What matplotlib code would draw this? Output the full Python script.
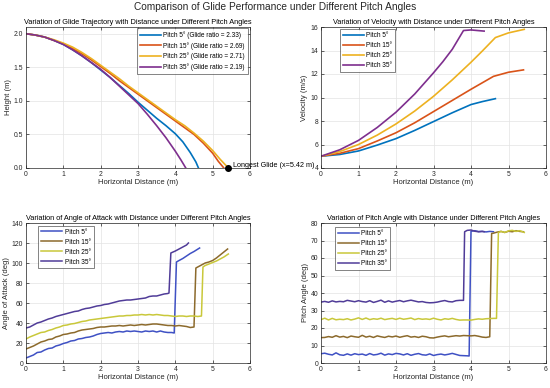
import numpy as np
import matplotlib
matplotlib.use("Agg")
import matplotlib.pyplot as plt

plt.rcParams['font.family'] = ['Liberation Sans', 'DejaVu Sans']

pitches = [5, 15, 25, 35]
glide_ratios = [2.33, 2.69, 2.71, 2.19]

# --- trajectory (height vs distance) ---
traj_x5 = [0.0, 0.25, 0.5, 0.75, 1.0, 1.25, 1.5, 1.75, 2.0, 2.25, 2.5, 2.75, 3.0, 3.25, 3.5, 3.75, 4.0, 4.2, 4.4, 4.55, 4.62]
traj_y5 = [2.0, 1.98, 1.95, 1.9, 1.84, 1.76, 1.67, 1.57, 1.46, 1.35, 1.23, 1.11, 0.98, 0.86, 0.74, 0.63, 0.51, 0.39, 0.23, 0.09, 0.0]
traj_x15 = [0.0, 0.25, 0.5, 0.75, 1.0, 1.25, 1.5, 1.75, 2.0, 2.25, 2.5, 2.75, 3.0, 3.25, 3.5, 3.75, 4.0, 4.25, 4.5, 4.75, 5.0, 5.15, 5.3]
traj_y15 = [2.0, 1.98, 1.95, 1.9, 1.85, 1.78, 1.7, 1.61, 1.51, 1.41, 1.3, 1.2, 1.1, 1.0, 0.9, 0.8, 0.7, 0.6, 0.5, 0.37, 0.22, 0.1, 0.0]
traj_x25 = [0.0, 0.25, 0.5, 0.75, 1.0, 1.25, 1.5, 1.75, 2.0, 2.25, 2.5, 2.75, 3.0, 3.25, 3.5, 3.75, 4.0, 4.25, 4.5, 4.75, 5.0, 5.2, 5.42]
traj_y25 = [2.0, 1.98, 1.95, 1.91, 1.86, 1.8, 1.72, 1.63, 1.53, 1.43, 1.33, 1.22, 1.12, 1.02, 0.92, 0.82, 0.72, 0.63, 0.52, 0.4, 0.26, 0.13, 0.0]
traj_x35 = [0.0, 0.25, 0.5, 0.75, 1.0, 1.25, 1.5, 1.75, 2.0, 2.25, 2.5, 2.75, 3.0, 3.25, 3.5, 3.75, 4.0, 4.15, 4.28]
traj_y35 = [2.0, 1.98, 1.95, 1.9, 1.84, 1.76, 1.67, 1.57, 1.47, 1.35, 1.22, 1.09, 0.96, 0.8, 0.63, 0.45, 0.25, 0.12, 0.0]

# --- velocity vs distance ---
vel_x5 = [0.0, 0.5, 1.0, 1.5, 2.0, 2.5, 3.0, 3.5, 4.0, 4.3, 4.65]
vel_y5 = [5.0, 5.15, 5.45, 5.95, 6.5, 7.2, 7.95, 8.7, 9.4, 9.65, 9.9]
vel_x15 = [0.0, 0.5, 1.0, 1.5, 2.0, 2.5, 3.0, 3.5, 4.0, 4.3, 4.6, 5.0, 5.4]
vel_y15 = [5.0, 5.25, 5.65, 6.3, 7.0, 7.85, 8.8, 9.75, 10.7, 11.25, 11.8, 12.15, 12.35]
vel_x25 = [0.0, 0.5, 1.0, 1.5, 2.0, 2.5, 3.0, 3.5, 4.0, 4.3, 4.65, 5.0, 5.42]
vel_y25 = [5.0, 5.4, 6.0, 6.8, 7.75, 8.85, 10.1, 11.5, 13.0, 13.95, 15.1, 15.5, 15.8]
vel_x35 = [0.0, 0.5, 1.0, 1.5, 2.0, 2.5, 3.0, 3.25, 3.5, 3.8, 4.0, 4.35]
vel_y35 = [5.0, 5.55, 6.35, 7.45, 8.75, 10.3, 12.1, 13.05, 14.1, 15.7, 15.75, 15.65]

# common sample positions before the jumps
x_base = [0.0, 0.1, 0.2, 0.3, 0.4, 0.5, 0.6, 0.7, 0.8, 0.9, 1.0, 1.1, 1.2, 1.3, 1.4, 1.5, 1.6, 1.7, 1.8, 1.9,
          2.0, 2.1, 2.2, 2.3, 2.4, 2.5, 2.6, 2.7, 2.8, 2.9, 3.0, 3.1, 3.2, 3.3, 3.4, 3.5, 3.6, 3.7, 3.8]

# --- angle of attack ---
aoa_y5 = [5, 6.5, 8, 10.5, 11, 13, 14.5, 15, 17, 18, 19.5, 20.5, 22, 22.5, 24, 24.5, 25.5, 26, 27, 28.5,
          29.5, 30, 30.5, 30, 31, 31.5, 31, 32, 31.5, 32, 31.5, 31, 32, 31.5, 32, 31, 32, 31, 30.5]
aoa_tx5 = [3.9, 3.97, 4.03, 4.1, 4.2, 4.3, 4.4, 4.5, 4.65]
aoa_ty5 = [30.5, 30.0, 101.0, 102.5, 104.5, 107.0, 109.5, 111.5, 115.0]
aoa_y15 = [14, 15.5, 17, 19, 21, 22, 23.5, 24, 26, 27, 28.5, 29, 30, 30.5, 32, 33, 33.5, 34, 34.5, 35.5,
           36, 36, 36.5, 37, 37, 37.5, 37, 37.5, 38, 37.5, 38, 38.5, 38, 38.5, 39, 39, 38.5, 38, 37.5]
aoa_tx15 = [3.9, 4.0, 4.1, 4.2, 4.3, 4.4, 4.5, 4.55, 4.6, 4.7, 4.8, 4.9, 5.0, 5.1, 5.2, 5.3, 5.4]
aoa_ty15 = [37.5, 37.0, 37.5, 37.0, 36.5, 35.5, 36.0, 95.0, 96.0, 98.0, 100.0, 101.0, 102.5, 105.0, 108.0, 111.0, 114.0]
aoa_y25 = [24, 26, 27.5, 29, 30.5, 31, 32.5, 33.5, 35, 36, 37.5, 38, 39, 39.5, 40.5, 41.5, 42, 43, 43.5, 44,
           44.5, 45, 45.5, 46, 46.5, 47, 47, 47.5, 47.5, 48, 48, 48.5, 48, 48.5, 48, 48.5, 48, 47.5, 47.5]
aoa_tx25 = [3.9, 4.0, 4.1, 4.2, 4.3, 4.4, 4.5, 4.6, 4.7, 4.74, 4.8, 4.9, 5.0, 5.1, 5.2, 5.3, 5.42]
aoa_ty25 = [47, 46.5, 47, 47, 46.5, 47, 47, 46.5, 47, 96, 97.5, 99, 100.5, 102, 104, 106, 109]
aoa_y35 = [35, 36, 38, 40, 41, 42.5, 44, 45, 46.5, 47.5, 48.5, 49.5, 50.5, 51.5, 52, 53.5, 54.5, 55, 56, 57,
           57.5, 58.5, 59, 60, 61, 62, 62.5, 63, 63, 63.5, 64, 64.5, 65, 66.5, 67, 67, 68, 69, 69.5]
aoa_tx35 = [3.83, 3.88, 4.0, 4.1, 4.2, 4.3, 4.35]
aoa_ty35 = [70, 110, 112, 114, 116, 118, 120]

# --- pitch angle ---
pa_y5 = [5.3, 5.6, 5.0, 4.6, 5.8, 4.7, 4.4, 5.2, 4.5, 5.3, 4.8, 5.1, 4.4, 5.4, 4.6, 4.9, 5.6, 4.5, 5.2, 4.8,
         5.5, 5.2, 4.6, 5.3, 4.4, 5.0, 5.4, 4.7, 4.5, 5.2, 4.3, 4.8, 5.1, 4.6, 5.0, 5.5, 4.9, 4.3, 4.2]
pa_tx5 = [3.9, 3.95, 4.0, 4.1, 4.2, 4.3, 4.4, 4.5, 4.6]
pa_ty5 = [4.1, 4.0, 75.3, 75.6, 75.1, 75.2, 74.9, 75.2, 75.0]
pa_y15 = [14.5, 14.6, 15.1, 14.7, 15.6, 14.8, 15.2, 14.5, 15.4, 15.0, 14.7, 15.8, 14.8, 15.3, 14.6, 15.5, 15.0, 14.6, 15.3, 14.9,
          15.4, 14.7, 15.2, 15.6, 14.8, 15.1, 14.6, 15.3, 15.0, 14.4, 14.3, 14.8, 15.2, 15.5, 15.0, 15.3, 15.6, 15.4, 15.7]
pa_tx15 = [3.9, 4.0, 4.1, 4.2, 4.3, 4.4, 4.5, 4.55, 4.6, 4.7, 4.8, 4.9, 5.0, 5.1, 5.2, 5.3, 5.4]
pa_ty15 = [15.6, 15.5, 15.7, 15.3, 14.8, 14.6, 15.0, 74.0, 74.2, 74.8, 75.2, 74.6, 75.3, 75.0, 75.6, 75.2, 75.0]
pa_y25 = [24.8, 25.6, 24.6, 25.5, 24.7, 25.0, 24.8, 25.3, 24.6, 25.1, 25.8, 24.9, 25.7, 24.8, 25.3, 25.0, 25.6, 24.8, 25.2, 25.5,
          24.9, 25.6, 25.0, 25.3, 25.7, 24.8, 25.4, 25.0, 25.2, 24.9, 25.6, 25.0, 24.6, 25.3, 25.0, 25.5, 24.9, 24.5, 24.6]
pa_tx25 = [3.9, 4.0, 4.1, 4.2, 4.3, 4.4, 4.5, 4.6, 4.68, 4.73, 4.8, 4.9, 5.0, 5.1, 5.2, 5.3, 5.42]
pa_ty25 = [24.6, 24.5, 24.9, 25.2, 25.0, 25.3, 25.4, 25.5, 25.5, 74.5, 75.2, 74.6, 75.5, 75.8, 75.2, 75.6, 74.6]
pa_y35 = [34.8, 35.2, 34.7, 35.5, 34.9, 35.2, 35.0, 35.8, 35.4, 35.0, 35.6, 35.1, 34.8, 35.6, 34.6, 35.2, 35.9, 34.7, 35.5, 34.8,
          35.3, 35.7, 35.0, 35.5, 35.9, 35.4, 34.9, 35.1, 34.6, 34.4, 34.5, 34.8, 35.3, 35.7, 35.1, 34.9, 35.6, 35.8, 35.8]
pa_tx35 = [3.83, 3.9, 4.0, 4.1, 4.2, 4.3, 4.35]
pa_ty35 = [75.0, 75.8, 76.0, 75.3, 75.0, 75.2, 75.0]

top_colors = ['#0072BD', '#D95319', '#EDB120', '#7E2F8E']
bot_colors = ['#3F51C4', '#8C6A2C', '#C9C83A', '#503C98']

fig = plt.figure(figsize=(5.5, 3.88), dpi=100)
fs = 4.9


def style(ax, ylim, yticks, title, ylabel):
    ax.set_xlim(0, 6)
    ax.set_ylim(*ylim)
    ax.set_xticks(range(0, 7))
    ax.set_yticks(yticks)
    ax.grid(True, color='#e3e3e3', lw=0.5)
    ax.set_axisbelow(True)
    ax.tick_params(direction='in', length=2, width=0.5, labelsize=fs, pad=2,
                   top=True, right=True, colors='#262626')
    for s in ax.spines.values():
        s.set_linewidth(0.5)
        s.set_color('#262626')
    ax.set_title(title, fontsize=5.3, pad=2.5)
    ax.set_xlabel('Horizontal Distance (m)', fontsize=5.5, labelpad=1, color='#262626')
    ax.set_ylabel(ylabel, fontsize=5.5, labelpad=1.5, color='#262626')


def leg(ax, labels, anchor, loc):
    ax.legend(labels, loc=loc, bbox_to_anchor=anchor, fontsize=4.7, frameon=True, fancybox=False,
              edgecolor='#262626', handlelength=3.2, handletextpad=0.4, borderpad=0.45,
              labelspacing=0.45, borderaxespad=0).get_frame().set_linewidth(0.5)


# top-left: trajectory
ax1 = fig.add_axes([26 / 550, 1 - 168 / 388, 224 / 550, 141 / 388])
for (x, y), c in zip([(traj_x5, traj_y5), (traj_x15, traj_y15), (traj_x25, traj_y25), (traj_x35, traj_y35)], top_colors):
    ax1.plot(x, y, color=c, lw=1.2)
style(ax1, (0, 2.1), [0, 0.5, 1, 1.5, 2], 'Variation of Glide Trajectory with Distance under Different Pitch Angles', 'Height (m)')
leg(ax1, ['Pitch %d\u00b0 (Glide ratio = %.2f)' % (p, g) for p, g in zip(pitches, glide_ratios)], (0.99, 0.99), 'upper right')
ax1.plot([traj_x25[-1]], [0], 'o', color='black', ms=4, clip_on=False, zorder=5)
ax1.text(traj_x25[-1] + 0.12, 0.03, 'Longest Glide (x=%.2f m)' % traj_x25[-1], fontsize=5.2, clip_on=False,
         va='center', ha='left', zorder=6)

# top-right: velocity
ax2 = fig.add_axes([321 / 550, 1 - 168 / 388, 225 / 550, 141 / 388])
for (x, y), c in zip([(vel_x5, vel_y5), (vel_x15, vel_y15), (vel_x25, vel_y25), (vel_x35, vel_y35)], top_colors):
    ax2.plot(x, y, color=c, lw=1.2)
style(ax2, (4, 16), [4, 6, 8, 10, 12, 14, 16], 'Variation of Velocity with Distance under Different Pitch Angles', 'Velocity (m/s)')
leg(ax2, ['Pitch %d\u00b0' % p for p in pitches], (0.084, 0.985), 'upper left')

# bottom-left: angle of attack
ax3 = fig.add_axes([26 / 550, 25 / 388, 224 / 550, 140 / 388])
aoa = [(aoa_y5, aoa_tx5, aoa_ty5), (aoa_y15, aoa_tx15, aoa_ty15), (aoa_y25, aoa_tx25, aoa_ty25), (aoa_y35, aoa_tx35, aoa_ty35)]
for (yb, tx, ty), c in zip(aoa, bot_colors):
    ax3.plot(x_base + tx, yb + ty, color=c, lw=1.1)
style(ax3, (0, 140), range(0, 141, 20), 'Variation of Angle of Attack with Distance under Different Pitch Angles', 'Angle of Attack (deg)')
leg(ax3, ['Pitch %d\u00b0' % p for p in pitches], (0.054, 0.98), 'upper left')

# bottom-right: pitch angle
ax4 = fig.add_axes([321 / 550, 25 / 388, 225 / 550, 140 / 388])
pa = [(pa_y5, pa_tx5, pa_ty5), (pa_y15, pa_tx15, pa_ty15), (pa_y25, pa_tx25, pa_ty25), (pa_y35, pa_tx35, pa_ty35)]
for (yb, tx, ty), c in zip(pa, bot_colors):
    ax4.plot(x_base + tx, yb + ty, color=c, lw=1.1)
style(ax4, (0, 80), range(0, 81, 10), 'Variation of Pitch Angle with Distance under Different Pitch Angles', 'Pitch Angle (deg)')
leg(ax4, ['Pitch %d\u00b0' % p for p in pitches], (0.062, 0.97), 'upper left')

fig.suptitle('Comparison of Glide Performance under Different Pitch Angles', fontsize=7.3, y=0.995, color='#262626')

fig.savefig('out.png', dpi=100)
